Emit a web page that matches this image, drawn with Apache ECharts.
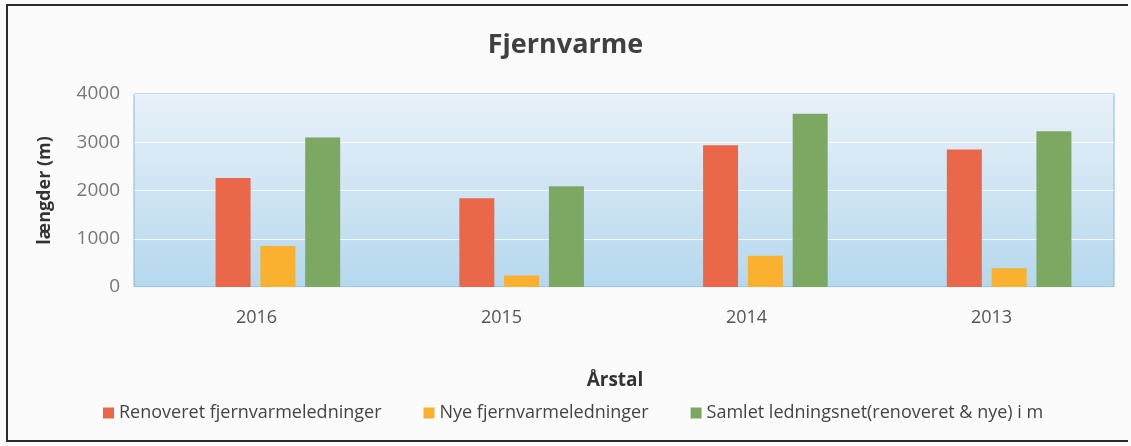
<!DOCTYPE html>
<html>
<head>
<meta charset="utf-8">
<script src="https://cdn.jsdelivr.net/npm/echarts@6/dist/echarts.min.js"></script>
<style>
  html, body { margin: 0; padding: 0; background: #fbfbfb; }
  #chart { width: 1131px; height: 446px; }
</style>
</head>
<body>
<div id="chart"></div>
<script>
// data
var years = ['2016', '2015', '2014', '2013'];
var seriesNames = [
  'Renoveret fjernvarmeledninger',
  'Nye fjernvarmeledninger',
  'Samlet ledningsnet(renoveret & nye) i m'
];
var renoveret = [2260, 1840, 2940, 2850];
var nye = [850, 240, 650, 390];
var samlet = [3100, 2090, 3590, 3230];
var yTicks = [0, 1000, 2000, 3000, 4000];

var colors = ['#ea6849', '#f9b12f', '#7ca862'];
var font = 'Open Sans';

var chart = echarts.init(document.getElementById('chart'));

var barSeries = [renoveret, nye, samlet].map(function (vals, i) {
  return {
    name: seriesNames[i],
    type: 'bar',
    xAxisIndex: 1,
    yAxisIndex: 1,
    data: vals,
    barWidth: 35,
    barGap: '28%',
    itemStyle: { color: colors[i] }
  };
});

chart.setOption({
  backgroundColor: '#fbfbfb',
  animation: false,
  textStyle: { fontFamily: font },
  title: {
    text: 'Fjernvarme',
    left: 'center',
    top: 27,
    textStyle: { fontSize: 27, fontWeight: 'bold', color: '#404040', fontFamily: font }
  },
  legend: {
    data: seriesNames,
    left: 98,
    top: 399,
    itemWidth: 11,
    itemHeight: 11,
    itemGap: 42,
    icon: 'rect',
    textStyle: { fontSize: 18, color: '#444', fontFamily: font }
  },
  grid: [
    {
      left: 134, right: 17, top: 94, bottom: 159,
      show: true,
      borderColor: '#86b9da',
      borderWidth: 1,
      backgroundColor: new echarts.graphic.LinearGradient(0, 0, 0, 1, [
        { offset: 0, color: '#e9f1f9' },
        { offset: 1, color: '#b5d8ee' }
      ])
    },
    { left: 156, width: 980, top: 94, bottom: 159 }
  ],
  xAxis: [
    {
      type: 'category',
      gridIndex: 0,
      data: years,
      name: 'Årstal',
      nameLocation: 'middle',
      nameGap: 84,
      nameTextStyle: { fontSize: 19, fontWeight: 'bold', color: '#333', fontFamily: font, padding: [0, 18, 0, 0] },
      axisLine: { show: false },
      axisTick: { show: false },
      axisLabel: { fontSize: 18, color: '#555', margin: 22 }
    },
    {
      type: 'category',
      gridIndex: 1,
      data: years,
      show: false
    }
  ],
  yAxis: [
    {
      type: 'value',
      gridIndex: 0,
      min: yTicks[0],
      max: yTicks[yTicks.length - 1],
      interval: 1000,
      name: 'længder (m)',
      nameLocation: 'middle',
      nameRotate: 90,
      nameGap: 80,
      nameTextStyle: { fontSize: 18, fontWeight: 'bold', color: '#333', fontFamily: font },
      axisLine: { show: false },
      axisTick: { show: false },
      axisLabel: { fontSize: 19, color: '#777', margin: 14, formatter: function (v) { return String(v); } },
      splitLine: { lineStyle: { color: 'rgba(255,255,255,0.75)', width: 1 } }
    },
    {
      type: 'value',
      gridIndex: 1,
      min: yTicks[0],
      max: yTicks[yTicks.length - 1],
      show: false
    }
  ],
  graphic: [
    {
      type: 'polyline',
      shape: { points: [[1128, 5], [7, 5], [7, 441], [1128, 441]] },
      style: { stroke: '#2b2b2b', lineWidth: 2, fill: null }
    }
  ],
  series: barSeries
});
</script>
</body>
</html>
